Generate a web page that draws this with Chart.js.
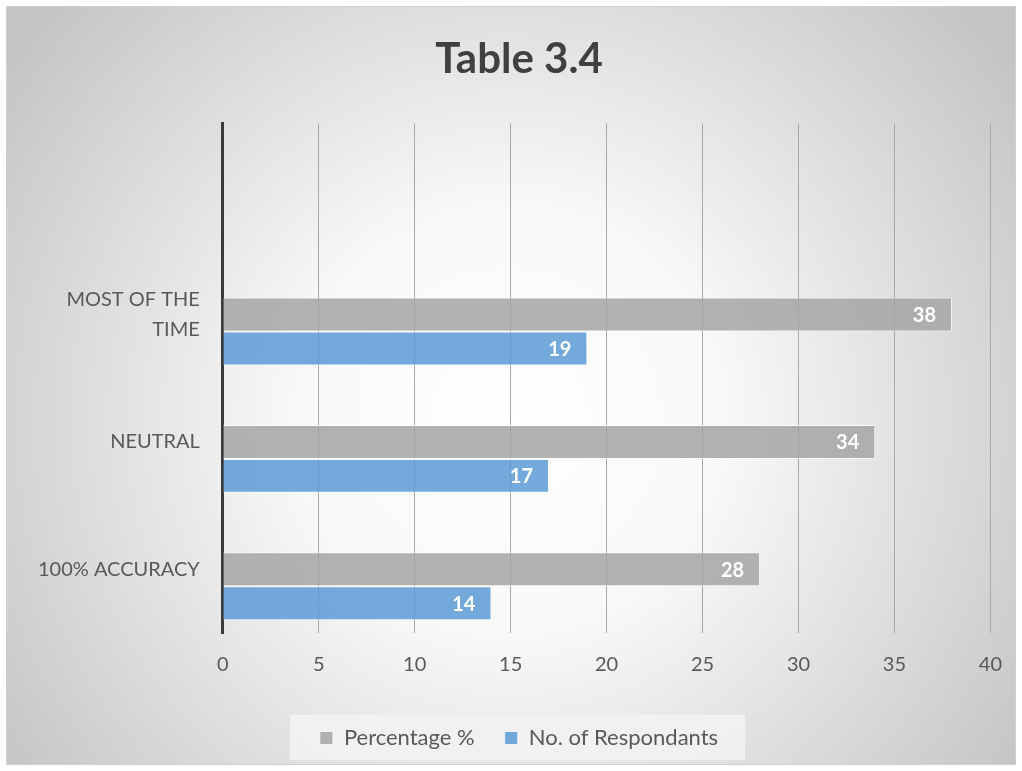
<!DOCTYPE html>
<html>
<head>
<meta charset="utf-8">
<script src="https://cdn.jsdelivr.net/npm/chart.js@4/dist/chart.umd.min.js"></script>
<style>
  html, body { margin: 0; padding: 0; background: #fff; }
  #wrap { width: 1022px; height: 771px; }
</style>
</head>
<body>
<div id="wrap"><canvas id="chart" width="1022" height="771"></canvas></div>
<script>
// Data
const categories = ["", ["MOST OF THE", "TIME"], "NEUTRAL", "100% ACCURACY"];
const percentage = [null, 38, 34, 28];
const respondants = [null, 19, 17, 14];
// empty third series in the original sheet, it only takes up a slot in each group
const spacer = [null, null, null, null];
const xTicks = [0, 5, 10, 15, 20, 25, 30, 35, 40];

const textColor = "#595959";
const fontName = "Lato, 'Open Sans', sans-serif";

// Background, frame and legend box
const backgroundPlugin = {
    id: "background",
    beforeDraw(chart) {
        const ctx = chart.ctx;
        const w = chart.width;
        const h = chart.height;
        ctx.save();
        ctx.fillStyle = "#ffffff";
        ctx.fillRect(0, 0, w, h);

        const grad = ctx.createRadialGradient(510, 420, 0, 510, 420, 620);
        grad.addColorStop(0, "#ffffff");
        grad.addColorStop(0.35, "#f8f8f8");
        grad.addColorStop(1, "#c4c4c4");
        ctx.fillStyle = grad;
        ctx.fillRect(6, 6, w - 12, h - 12);
        ctx.strokeStyle = "#d0d0d0";
        ctx.lineWidth = 1;
        ctx.strokeRect(6.5, 6.5, w - 13, h - 13);

        // legend box
        const boxes = chart.legend.legendHitBoxes;
        if (boxes && boxes.length) {
            const first = boxes[0];
            const last = boxes[boxes.length - 1];
            const left = first.left - 30;
            const right = last.left + last.width + 27;
            const mid = first.top + first.height / 2;
            ctx.fillStyle = "rgba(242,242,242,0.9)";
            ctx.fillRect(left, mid - 23, right - left, 45);
        }
        ctx.restore();
    }
};

// Value labels inside the end of each bar
const valueLabels = {
    id: "valueLabels",
    afterDatasetsDraw(chart) {
        const ctx = chart.ctx;
        ctx.save();
        ctx.fillStyle = "#ffffff";
        ctx.font = "bold 20px " + fontName;
        ctx.textAlign = "right";
        ctx.textBaseline = "middle";
        chart.data.datasets.forEach((ds, i) => {
            if (ds.isSpacer) return;
            chart.getDatasetMeta(i).data.forEach((bar, j) => {
                const v = ds.data[j];
                if (v === null) return;
                ctx.fillText(String(v), bar.x - 16, bar.y + 1);
            });
        });
        ctx.restore();
    }
};

new Chart(document.getElementById("chart"), {
    type: "bar",
    data: {
        labels: categories,
        datasets: [
            {
                label: "",
                data: spacer,
                isSpacer: true,
                backgroundColor: "rgba(0,0,0,0)"
            },
            {
                label: "Percentage %",
                data: percentage,
                backgroundColor: "rgba(165,165,165,0.85)",
                borderColor: "rgba(255,255,255,0.7)",
                borderWidth: 1
            },
            {
                label: "No. of Respondants",
                data: respondants,
                backgroundColor: "rgba(91,155,213,0.85)",
                borderColor: "rgba(255,255,255,0.7)",
                borderWidth: 1
            }
        ]
    },
    options: {
        indexAxis: "y",
        responsive: false,
        animation: false,
        categoryPercentage: 0.8,
        barPercentage: 1,
        layout: {
            padding: { left: 23, right: 7, top: 18, bottom: 12 }
        },
        plugins: {
            title: {
                display: true,
                text: "Table 3.4",
                color: "#404040",
                font: { family: fontName, size: 42, weight: "bold" },
                padding: { top: 16, bottom: 39 }
            },
            legend: {
                position: "bottom",
                labels: {
                    color: textColor,
                    font: { family: fontName, size: 22 },
                    boxWidth: 13,
                    boxHeight: 13,
                    padding: 30,
                    filter: (item, data) => !data.datasets[item.datasetIndex].isSpacer
                }
            },
            tooltip: { enabled: false }
        },
        scales: {
            x: {
                min: 0,
                max: 40,
                afterBuildTicks: (axis) => {
                    axis.ticks = xTicks.map((v) => ({ value: v }));
                },
                grid: {
                    color: "#a8a8a8",
                    lineWidth: 1,
                    drawTicks: false
                },
                border: { display: false },
                ticks: {
                    color: textColor,
                    font: { family: fontName, size: 20 },
                    padding: 20
                }
            },
            y: {
                grid: { display: false },
                border: { display: true, color: "#3a3a3a", width: 3 },
                ticks: {
                    color: textColor,
                    font: { family: fontName, size: 20, lineHeight: 1.5 },
                    padding: 15
                }
            }
        }
    },
    plugins: [backgroundPlugin, valueLabels]
});
</script>
</body>
</html>
